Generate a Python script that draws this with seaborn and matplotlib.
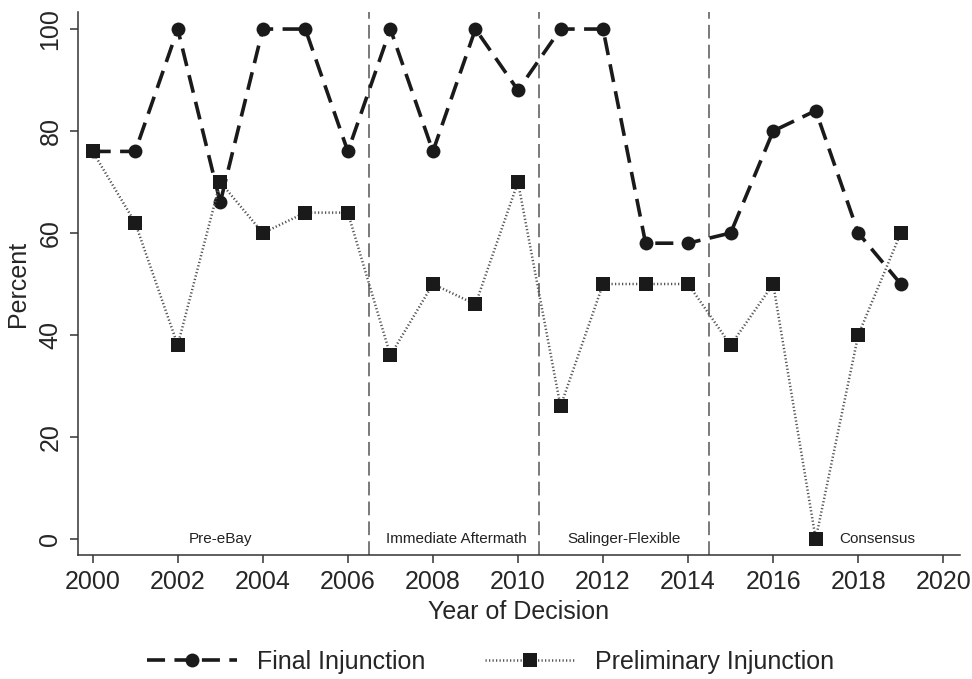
import matplotlib
matplotlib.use("Agg")
import matplotlib.pyplot as plt
import seaborn as sns
import pandas as pd

years = list(range(2000, 2020))
final_injunction = [76, 76, 100, 66, 100, 100, 76, 100, 76, 100, 88, 100, 100, 58, 58, 60, 80, 84, 60, 50]
preliminary_injunction = [76, 62, 38, 70, 60, 64, 64, 36, 50, 46, 70, 26, 50, 50, 50, 38, 50, 0, 40, 60]
period_breaks = [2006.5, 2010.5, 2014.5]
period_labels = ["Pre-eBay", "Immediate Aftermath", "Salinger-Flexible", "Consensus"]
period_label_x = [2003.0, 2008.55, 2012.5, 2018.45]
x_ticks = list(range(2000, 2021, 2))
y_ticks = [0, 20, 40, 60, 80, 100]

sns.set_theme(style="ticks")
plt.rcParams['font.family'] = ['Liberation Sans', 'DejaVu Sans']

df_final = pd.DataFrame({"year": years, "pct": final_injunction})
df_prel = pd.DataFrame({"year": years, "pct": preliminary_injunction})

fig = plt.figure(figsize=(9.72, 6.79), dpi=100)
ax = fig.add_axes([0.080, 0.183, 0.908, 0.799])

for xb in period_breaks:
    ax.axvline(xb, color="#555555", lw=1.1, ls=(0, (9, 4)), zorder=1)

sns.lineplot(data=df_final, x="year", y="pct", ax=ax, color="#1a1a1a",
             lw=2.6, linestyle=(0, (5, 2.6)), marker="o", markersize=10,
             markeredgewidth=0, label="Final Injunction", zorder=3)
sns.lineplot(data=df_prel, x="year", y="pct", ax=ax, color="#555555",
             lw=1.8, linestyle=(0, (0.5, 0.9)), marker="s", markersize=10,
             markerfacecolor="#1a1a1a", markeredgewidth=0,
             label="Preliminary Injunction", zorder=3)

for lab, lx in zip(period_labels, period_label_x):
    ax.text(lx, 0, lab, ha="center", va="center", fontsize=11, color="#222222")

ax.set_xlim(1999.65, 2020.4)
ax.set_ylim(-3.1, 103.3)
ax.set_xticks(x_ticks)
ax.set_yticks(y_ticks)
ax.tick_params(axis="both", labelsize=18, length=6, width=1.1, color="#333333",
               direction="out", pad=5)
for lbl in ax.get_yticklabels():
    lbl.set_rotation(90)
    lbl.set_va("center")
ax.set_xlabel("Year of Decision", fontsize=18, labelpad=4)
ax.set_ylabel("Percent", fontsize=18, labelpad=6)
sns.despine(ax=ax)
for s in ["left", "bottom"]:
    ax.spines[s].set_linewidth(1.1)
    ax.spines[s].set_color("#333333")

ax.legend_.remove()
h, l = ax.get_legend_handles_labels()
fig.legend(h, l, loc="center", bbox_to_anchor=(0.505, 0.025), ncol=2, frameon=False,
           fontsize=18, handlelength=3.6, columnspacing=2.4)

fig.savefig("out.png", dpi=100)
